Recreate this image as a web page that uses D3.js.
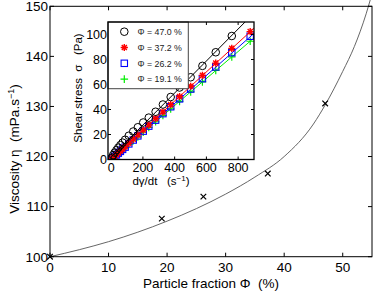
<!DOCTYPE html>
<html><head><meta charset="utf-8">
<script src="https://cdn.jsdelivr.net/npm/d3@7"></script>
<style>body{margin:0;background:#fff}svg{display:block;font-family:"Liberation Sans",Arial,sans-serif}text{white-space:pre}</style>
</head><body>
<svg id="c" width="374" height="295"></svg>
<script>
// Main plot data
const fractions = [0, 19.1, 26.2, 37.2, 47.0];
const viscosities = [100, 107.6, 112.0, 116.6, 130.6];
const curvePhi = [0, 5, 10, 15, 20, 25, 30, 35, 40, 45, 47, 50, 52, 54, 55];
const curveEta = [100, 101.4, 103, 104.9, 107.1, 109.6, 112.5, 115.9, 120.0, 126.5, 130.3, 137, 142, 148.5, 152.5];
const mainXTicks = [0, 10, 20, 30, 40, 50];
const mainYTicks = [100, 110, 120, 130, 140, 150];
// Inset data
const seriesNames = ["Φ = 47.0 %", "Φ = 37.2 %", "Φ = 26.2 %", "Φ = 19.1 %"];
const shearRates = [4, 12, 22, 33, 45, 58, 72, 88, 111, 139, 168, 202, 237, 280, 326, 375, 431, 501, 575, 659, 760, 876];
const stress470 = [1.5, 3.5, 5.5, 7.5, 9.5, 11.5, 13.5, 15.8, 19.0, 22.4, 25.8, 29.6, 33.5, 38.2, 44.0, 50.0, 57.6, 65.8, 74.9, 85.8, 98.8, 113.5];
const stress372 = [0.5, 1.4, 2.6, 3.9, 5.3, 6.8, 8.4, 10.3, 13.0, 16.3, 19.7, 23.6, 27.7, 32.8, 38.1, 43.9, 50.4, 58.6, 67.3, 77.1, 88.9, 102.3];
const stress262 = [0.4, 1.3, 2.5, 3.7, 5.1, 6.5, 8.1, 9.9, 12.5, 15.6, 18.9, 22.7, 26.7, 31.5, 36.7, 42.2, 48.5, 56.4, 64.7, 74.1, 85.5, 98.6];
const stress191 = [0.4, 1.3, 2.4, 3.6, 4.9, 6.3, 7.8, 9.5, 12.0, 15.0, 18.1, 21.8, 25.6, 30.2, 35.2, 40.5, 46.5, 54.1, 62.1, 71.2, 82.1, 94.6];
const fitRates = [0, 900];
const fit470 = [2, 117.2];
const fit372 = [0.3, 105.0];
const fit262 = [0, 100.9];
const fit191 = [0, 97.2];
const insetXTicks = [0, 200, 400, 600, 800];
const insetYTicks = [0, 20, 40, 60, 80, 100];

const svg = d3.select("#c");
// ---------- main axes
const m = {l: 50, r: 372, t: 6.3, b: 256.7};
const x = d3.scaleLinear().domain([0, 55]).range([m.l, m.r]);
const y = d3.scaleLinear().domain([100, 150]).range([m.b, m.t]);
const tk = 4;

const g = svg.append("g");
// curve
g.append("path").datum(curvePhi.map((p, i) => [p, curveEta[i]]))
  .attr("fill", "none").attr("stroke", "#555").attr("stroke-width", 0.9)
  .attr("d", d3.line().x(d => x(d[0])).y(d => y(d[1])).curve(d3.curveMonotoneX));
// x marks
fractions.forEach((f, i) => {
  const cx = x(f), cy = y(viscosities[i]), s = 2.8;
  g.append("path").attr("d", `M${cx-s},${cy-s}L${cx+s},${cy+s}M${cx-s},${cy+s}L${cx+s},${cy-s}`)
    .attr("stroke", "#000").attr("stroke-width", 1.2);
});
// ticks
mainXTicks.forEach(t => {
  g.append("line").attr("x1", x(t)).attr("x2", x(t)).attr("y1", m.b).attr("y2", m.b - tk).attr("stroke", "#000");
  g.append("line").attr("x1", x(t)).attr("x2", x(t)).attr("y1", m.t).attr("y2", m.t + tk).attr("stroke", "#000");
  g.append("text").attr("x", x(t)).attr("y", 271.5).attr("text-anchor", "middle").attr("font-size", 13.5).text(t);
});
mainYTicks.forEach(t => {
  g.append("line").attr("x1", m.l).attr("x2", m.l + tk).attr("y1", y(t)).attr("y2", y(t)).attr("stroke", "#000");
  g.append("line").attr("x1", m.r).attr("x2", m.r - tk).attr("y1", y(t)).attr("y2", y(t)).attr("stroke", "#000");
  g.append("text").attr("x", m.l - 2).attr("y", y(t) + 4.8).attr("text-anchor", "end").attr("font-size", 13.5).text(t);
});
g.append("rect").attr("x", m.l).attr("y", m.t).attr("width", m.r - m.l).attr("height", m.b - m.t)
  .attr("fill", "none").attr("stroke", "#000").attr("stroke-width", 1);
// axis labels
g.append("text").attr("x", 211).attr("y", 287.5).attr("text-anchor", "middle").attr("font-size", 13.5)
  .text("Particle fraction Φ  (%)");
const yl = g.append("text").attr("transform", "translate(19,149) rotate(-90)").attr("text-anchor", "middle").attr("font-size", 13.5);
yl.append("tspan").text("Viscosity η  (mPa.s");
yl.append("tspan").attr("font-size", 9).attr("dy", -5).text("−1");
yl.append("tspan").attr("dy", 5).text(")");

// ---------- inset
const n = {l: 108, r: 254, t: 22, b: 159.5};
const ix = d3.scaleLinear().domain([-20, 900]).range([n.l, n.r]);
const iy = d3.scaleLinear().domain([0, 110]).range([n.b, n.t]);
const ig = svg.append("g");
ig.append("rect").attr("x", n.l).attr("y", n.t).attr("width", n.r - n.l).attr("height", n.b - n.t).attr("fill", "#fff");
svg.append("clipPath").attr("id", "ic").append("rect").attr("x", n.l).attr("y", n.t).attr("width", n.r - n.l).attr("height", n.b - n.t);
const pg = ig.append("g").attr("clip-path", "url(#ic)");

const colors = ["#000", "#ff0000", "#0000ff", "#00ee00"];
const stresses = [stress470, stress372, stress262, stress191];
const fits = [fit470, fit372, fit262, fit191];

function marker(sel, k, cx, cy) {
  const c = colors[k];
  if (k === 0) sel.append("circle").attr("cx", cx).attr("cy", cy).attr("r", 3.8).attr("fill", "none").attr("stroke", c).attr("stroke-width", 1);
  else if (k === 1) {
    const s = 3.6, d = s * 0.707;
    sel.append("path").attr("d", `M${cx-s},${cy}L${cx+s},${cy}M${cx},${cy-s}L${cx},${cy+s}M${cx-d},${cy-d}L${cx+d},${cy+d}M${cx-d},${cy+d}L${cx+d},${cy-d}`)
      .attr("stroke", c).attr("stroke-width", 1.4);
  } else if (k === 2) sel.append("rect").attr("x", cx - 3.2).attr("y", cy - 3.2).attr("width", 6.4).attr("height", 6.4).attr("fill", "none").attr("stroke", c).attr("stroke-width", 1.1);
  else {
    const s = 3.8;
    sel.append("path").attr("d", `M${cx-s},${cy}L${cx+s},${cy}M${cx},${cy-s}L${cx},${cy+s}`).attr("stroke", c).attr("stroke-width", 1.2);
  }
}
[3, 2, 1, 0].forEach(k => {
  pg.append("path").datum(fitRates.map((r, i) => [r, fits[k][i]]))
    .attr("fill", "none").attr("stroke", colors[k]).attr("stroke-width", 1)
    .attr("d", d3.line().x(d => ix(d[0])).y(d => iy(d[1])));
  shearRates.forEach((r, i) => marker(pg, k, ix(r), iy(stresses[k][i])));
});
insetXTicks.forEach(t => {
  ig.append("line").attr("x1", ix(t)).attr("x2", ix(t)).attr("y1", n.b).attr("y2", n.b - 3).attr("stroke", "#000");
  ig.append("line").attr("x1", ix(t)).attr("x2", ix(t)).attr("y1", n.t).attr("y2", n.t + 3).attr("stroke", "#000");
  ig.append("text").attr("x", ix(t)).attr("y", 172).attr("text-anchor", "middle").attr("font-size", 12.5).text(t);
});
insetYTicks.forEach(t => {
  ig.append("line").attr("x1", n.l).attr("x2", n.l + 3).attr("y1", iy(t)).attr("y2", iy(t)).attr("stroke", "#000");
  ig.append("line").attr("x1", n.r).attr("x2", n.r - 3).attr("y1", iy(t)).attr("y2", iy(t)).attr("stroke", "#000");
  ig.append("text").attr("x", n.l - 1).attr("y", iy(t) + 4.4).attr("text-anchor", "end").attr("font-size", 12.5).text(t);
});
// legend
const lg = ig.append("g");
lg.append("rect").attr("x", n.l).attr("y", n.t).attr("width", 80.3).attr("height", 66.7).attr("fill", "#fff").attr("stroke", "#444").attr("stroke-width", 1);
const rowY = [31.7, 47.5, 63.3, 79.1];
seriesNames.forEach((s, k) => {
  marker(lg, k, 124.3, rowY[k]);
  lg.append("text").attr("x", 137.5).attr("y", rowY[k] + 3.2).attr("font-size", 8.8).attr("fill", "#222").text(s);
});
ig.append("rect").attr("x", n.l).attr("y", n.t).attr("width", n.r - n.l).attr("height", n.b - n.t)
  .attr("fill", "none").attr("stroke", "#000").attr("stroke-width", 1.3);
ig.append("text").attr("transform", "translate(82,88) rotate(-90)").attr("text-anchor", "middle").attr("font-size", 11.5)
  .text("Shear stress  σ   (Pa)");
const xl = ig.append("text").attr("x", 161).attr("y", 185).attr("text-anchor", "middle").attr("font-size", 11.5);
xl.append("tspan").text("dγ/dt   (s");
xl.append("tspan").attr("font-size", 8).attr("dy", -4).text("−1");
xl.append("tspan").attr("dy", 4).text(")");
</script>
</body></html>
